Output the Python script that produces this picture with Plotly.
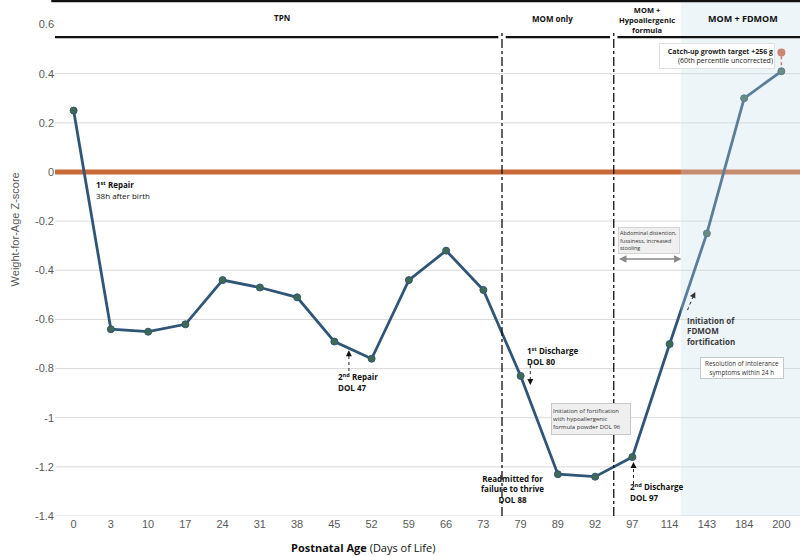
import plotly.graph_objects as go

days = [0, 3, 10, 17, 24, 31, 38, 45, 52, 59, 66, 73, 79, 89, 92, 97, 114, 143, 184, 200]
zscore = [0.25, -0.64, -0.65, -0.62, -0.44, -0.47, -0.51, -0.69, -0.76, -0.44, -0.32,
          -0.48, -0.83, -1.23, -1.24, -1.16, -0.70, -0.25, 0.30, 0.41]
target_day = 200
target_z = 0.486
ytick_vals = [0.6, 0.4, 0.2, 0, -0.2, -0.4, -0.6, -0.8, -1, -1.2, -1.4]
ytick_text = ["0.6", "0.4", "0.2", "0", "-0.2", "-0.4", "-0.6", "-0.8", "-1", "-1.2", "-1.4"]
grid_vals = [0.4, 0.2, -0.2, -0.4, -0.6, -0.8, -1, -1.2, -1.4]

cats = [str(d) for d in days]
AF = "Open Sans"
TF = "Liberation Sans"

fig = go.Figure()

# target dotted connector + point
fig.add_trace(go.Scatter(x=[str(target_day), str(target_day)], y=[zscore[-1], target_z],
                         mode="lines", line=dict(color="#C8553A", width=1.5, dash="dot"),
                         hoverinfo="skip", showlegend=False))
fig.add_trace(go.Scatter(x=cats, y=zscore, mode="lines+markers",
                         line=dict(color="#2F5577", width=2.8),
                         marker=dict(size=7, color="#3F6A52", line=dict(color="#2F5577", width=1)),
                         showlegend=False))
fig.add_trace(go.Scatter(x=[str(target_day)], y=[target_z], mode="markers",
                         marker=dict(size=8, color="#CF6040"), showlegend=False))

shapes = []
for g in grid_vals:
    shapes.append(dict(type="line", xref="paper", x0=0, x1=1, yref="y", y0=g, y1=g,
                       line=dict(color="#DADADA", width=1), layer="below"))
# zero reference line
shapes.append(dict(type="line", xref="paper", x0=0, x1=1, yref="y", y0=0, y1=0,
                   line=dict(color="#C8693A", width=5), layer="below"))
# shaded MOM + FDMOM region
shapes.append(dict(type="rect", xref="x", x0=16.3, x1=19.5, yref="paper", y0=0, y1=1,
                   fillcolor="rgba(200,222,236,0.3)", line=dict(width=0), layer="above"))
# vertical dash-dot separators
for xv in [11.5, 14.5]:
    shapes.append(dict(type="line", xref="x", x0=xv, x1=xv, yref="paper", y0=0, y1=0.94,
                       line=dict(color="#111111", width=1.3, dash="dashdot")))
# header lines
shapes.append(dict(type="line", xref="paper", x0=-0.005, x1=1, yref="paper", y0=0.998, y1=0.998,
                   line=dict(color="#111111", width=2.2)))
for a, b in [(-0.005, 11.4), (11.6, 14.4), (14.6, 19.5)]:
    x0 = a if a < 0 else a
    shapes.append(dict(type="line", xref="paper" if a < 0 else "x", x0=x0, x1=b, xref2=None,
                       yref="paper", y0=0.928, y1=0.928, line=dict(color="#111111", width=2.2)))
# fix the first segment mixing refs: rebuild properly
shapes = [s for s in shapes if "xref2" not in s]
shapes.append(dict(type="line", xref="x", x0=-0.6, x1=11.4, yref="paper", y0=0.928, y1=0.928,
                   line=dict(color="#111111", width=2.2)))
shapes.append(dict(type="line", xref="x", x0=11.6, x1=14.4, yref="paper", y0=0.928, y1=0.928,
                   line=dict(color="#111111", width=2.2)))
shapes.append(dict(type="line", xref="x", x0=14.6, x1=19.5, yref="paper", y0=0.928, y1=0.928,
                   line=dict(color="#111111", width=2.2)))
# dashed arrow stems
for (xa, ya, xb, yb) in [(7.39, -0.81, 7.39, -0.74), (12.26, -0.786, 12.26, -0.85),
                         (15.03, -1.27, 15.03, -1.195), (16.48, -0.562, 16.65, -0.50)]:
    shapes.append(dict(type="line", xref="x", yref="y", x0=xa, y0=ya, x1=xb, y1=yb,
                       line=dict(color="#222222", width=1, dash="dot")))

ann = []
def txt(x, y, text, size=8, xanchor="left", yanchor="top", align="left", color="#111111",
        xref="x", yref="y", font=AF, **kw):
    ann.append(dict(x=x, y=y, xref=xref, yref=yref, text=text, showarrow=False,
                    xanchor=xanchor, yanchor=yanchor, align=align,
                    font=dict(size=size, color=color, family=font), **kw))

# headers
txt(5.59, 0.967, "<b>TPN</b>", 8, "center", "middle", "center", yref="paper")
txt(12.85, 0.965, "<b>MOM only</b>", 8, "center", "middle", "center", yref="paper")
txt(15.40, 0.961, "<b>MOM +</b><br><b>Hypoallergenic</b><br><b>formula</b>", 7.5, "center", "middle", "center", yref="paper")
txt(17.98, 0.965, "<b>MOM + FDMOM</b>", 9, "center", "middle", "center", yref="paper")

txt(0.56, -0.02, "<b>1<sup>st</sup> Repair</b><br>38h after birth", 8)
txt(7.04, -0.80, "<b>2<sup>nd</sup> Repair</b><br><b>DOL 47</b>", 8)
txt(12.12, -0.695, "<b>1<sup>st</sup> Discharge</b><br><b>DOL 80</b>", 8)
txt(11.77, -1.215, "<b>Readmitted for</b><br><b>failure to thrive</b><br><b>DOL 88</b>", 8, "center", align="center")
txt(14.89, -1.25, "<b>2<sup>nd</sup> Discharge</b><br><b>DOL 97</b>", 8)
txt(16.40, -0.572, "<b>Initiation of</b><br><b>FDMOM</b><br><b>fortification</b>", 8, color="#3A3A3A")

# boxes
txt(13.9, -1.005, "Initiation of fortification<br>with hypoallergenic<br>formula powder DOL 96", 6,
    "center", "middle", "left", color="#333333", bgcolor="#EFEFEF", bordercolor="#C8C8C8",
    borderwidth=1, width=76, height=28, borderpad=1)
txt(17.94, -0.796, "Resolution of intolerance<br>symptoms within 24 h", 6.3,
    "center", "middle", "center", color="#333333", bgcolor="#FFFFFF", bordercolor="#C8C8C8",
    borderwidth=1, width=80, height=18, borderpad=1)
txt(15.44, -0.279, "Abdominal distention,<br>fussiness, increased<br>stooling", 5.5,
    "center", "middle", "left", color="#333333", bgcolor="#EFEFEF", bordercolor="#D5D5D5",
    borderwidth=1, width=58, height=23, borderpad=1)
txt(17.26, 0.472, "<b>Catch-up growth target +256 g</b><br>(60th percentile uncorrected)", 7,
    "center", "middle", "right", color="#222222", bgcolor="#FFFFFF", bordercolor="#E0E0E0",
    borderwidth=1, width=112, height=22, borderpad=1)

# arrow heads
def head(x, y, ax, ay, color="#111111", side="end", size=1, width=1):
    ann.append(dict(x=x, y=y, ax=ax, ay=ay, xref="x", yref="y", axref="x", ayref="y",
                    text="", showarrow=True, arrowhead=2, arrowsize=size, arrowwidth=width,
                    arrowcolor=color, arrowside=side))

head(7.39, -0.725, 7.39, -0.74, size=1.2)
head(12.26, -0.867, 12.26, -0.85, size=1.2)
head(15.03, -1.18, 15.03, -1.195, size=1.2)
head(16.69, -0.488, 16.65, -0.50, color="#333333", size=1.2)
# double arrow
ann.append(dict(x=16.32, y=-0.354, ax=14.60, ay=-0.354, xref="x", yref="y", axref="x", ayref="y",
                text="", showarrow=True, arrowhead=2, startarrowhead=2, arrowside="end+start",
                arrowsize=1, arrowwidth=1.5, arrowcolor="#8A8A8A"))

# axis titles
ann.append(dict(x=-0.054, y=0.555, xref="paper", yref="paper", textangle=-90,
                text="Weight-for-Age Z-score", showarrow=False,
                font=dict(size=11, color="#595959", family=TF), xanchor="center", yanchor="middle"))
ann.append(dict(x=0.413, y=-0.062, xref="paper", yref="paper",
                text="<b>Postnatal Age</b> (Days of Life)", showarrow=False,
                font=dict(size=11, color="#111111", family=AF), xanchor="center", yanchor="middle"))

fig.update_layout(
    width=800, height=556,
    margin=dict(l=55, r=0, t=0, b=40),
    plot_bgcolor="white", paper_bgcolor="white",
    shapes=shapes, annotations=ann,
    xaxis=dict(type="category", categoryorder="array", categoryarray=cats,
               range=[-0.5, 19.5], showgrid=False, zeroline=False, showline=False,
               ticks="", tickfont=dict(size=11, color="#595959", family=TF)),
    yaxis=dict(range=[-1.4, 0.7], tickvals=ytick_vals, ticktext=ytick_text,
               showgrid=False, zeroline=False, showline=False, ticks="",
               tickfont=dict(size=11, color="#595959", family=TF)),
)

fig.write_html("out.html")
